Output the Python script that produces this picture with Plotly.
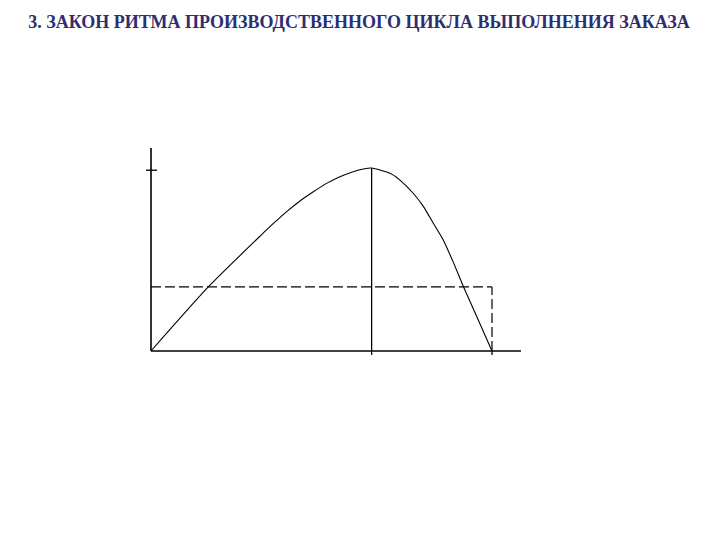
import plotly.graph_objects as go

# Curve: production rhythm (normalized time vs. intensity)
curve_x = [0, 0.168, 0.320, 0.359, 0.398, 0.437, 0.476, 0.515, 0.554, 0.593, 0.623, 0.647,
           0.701, 0.730, 0.769, 0.799, 0.828, 0.857, 0.887, 0.916, 0.965, 1.0]
curve_y = [0, 0.350, 0.628, 0.697, 0.762, 0.820, 0.870, 0.916, 0.952, 0.980, 0.995, 1.0,
           0.971, 0.934, 0.862, 0.789, 0.698, 0.607, 0.483, 0.353, 0.148, 0]

peak_x = 0.647
peak_y = 1.0
level_y = 0.35
end_x = 1.0
axis_x_max = 1.085
axis_y_max = 1.109
ytick_y = 0.988

title_text = "3. ЗАКОН РИТМА ПРОИЗВОДСТВЕННОГО ЦИКЛА ВЫПОЛНЕНИЯ ЗАКАЗА"

fig = go.Figure()
black = "#000000"

def seg(xs, ys, width=1.3, dash="solid"):
    fig.add_trace(go.Scatter(x=xs, y=ys, mode="lines",
                             line=dict(color=black, width=width, dash=dash),
                             hoverinfo="skip", showlegend=False))

# axes
seg([0, 0], [0, axis_y_max], 1.6)
seg([0, axis_x_max], [0, 0], 1.6)
# y tick
seg([-0.0147, 0.0176], [ytick_y, ytick_y], 1.3)
# peak vertical
seg([peak_x, peak_x], [-0.022, peak_y], 1.3)
# end tick
seg([end_x, end_x], [-0.022, 0], 1.3)
# dashed level
seg([0, end_x], [level_y, level_y], 1.2, "10px,4px")
seg([end_x, end_x], [0, level_y], 1.2, "10px,4px")
# curve
fig.add_trace(go.Scatter(x=curve_x, y=curve_y, mode="lines",
                         line=dict(color=black, width=1.1, shape="spline", smoothing=0.6),
                         hoverinfo="skip", showlegend=False))

fig.update_layout(
    width=720, height=540,
    margin=dict(l=133, r=197, t=132, b=187),
    paper_bgcolor="white", plot_bgcolor="white",
    xaxis=dict(range=[-0.0293, 1.1144], visible=False, fixedrange=True),
    yaxis=dict(range=[-0.0546, 1.153], visible=False, fixedrange=True),
    title=dict(text="<b>" + title_text + "</b>", x=351 / 720, xref="container", xanchor="center",
               y=1 - 14 / 540, yref="container", yanchor="middle",
               font=dict(family="Liberation Serif", size=18, color="#2E2E70")),
)

fig.write_html("out.html")
